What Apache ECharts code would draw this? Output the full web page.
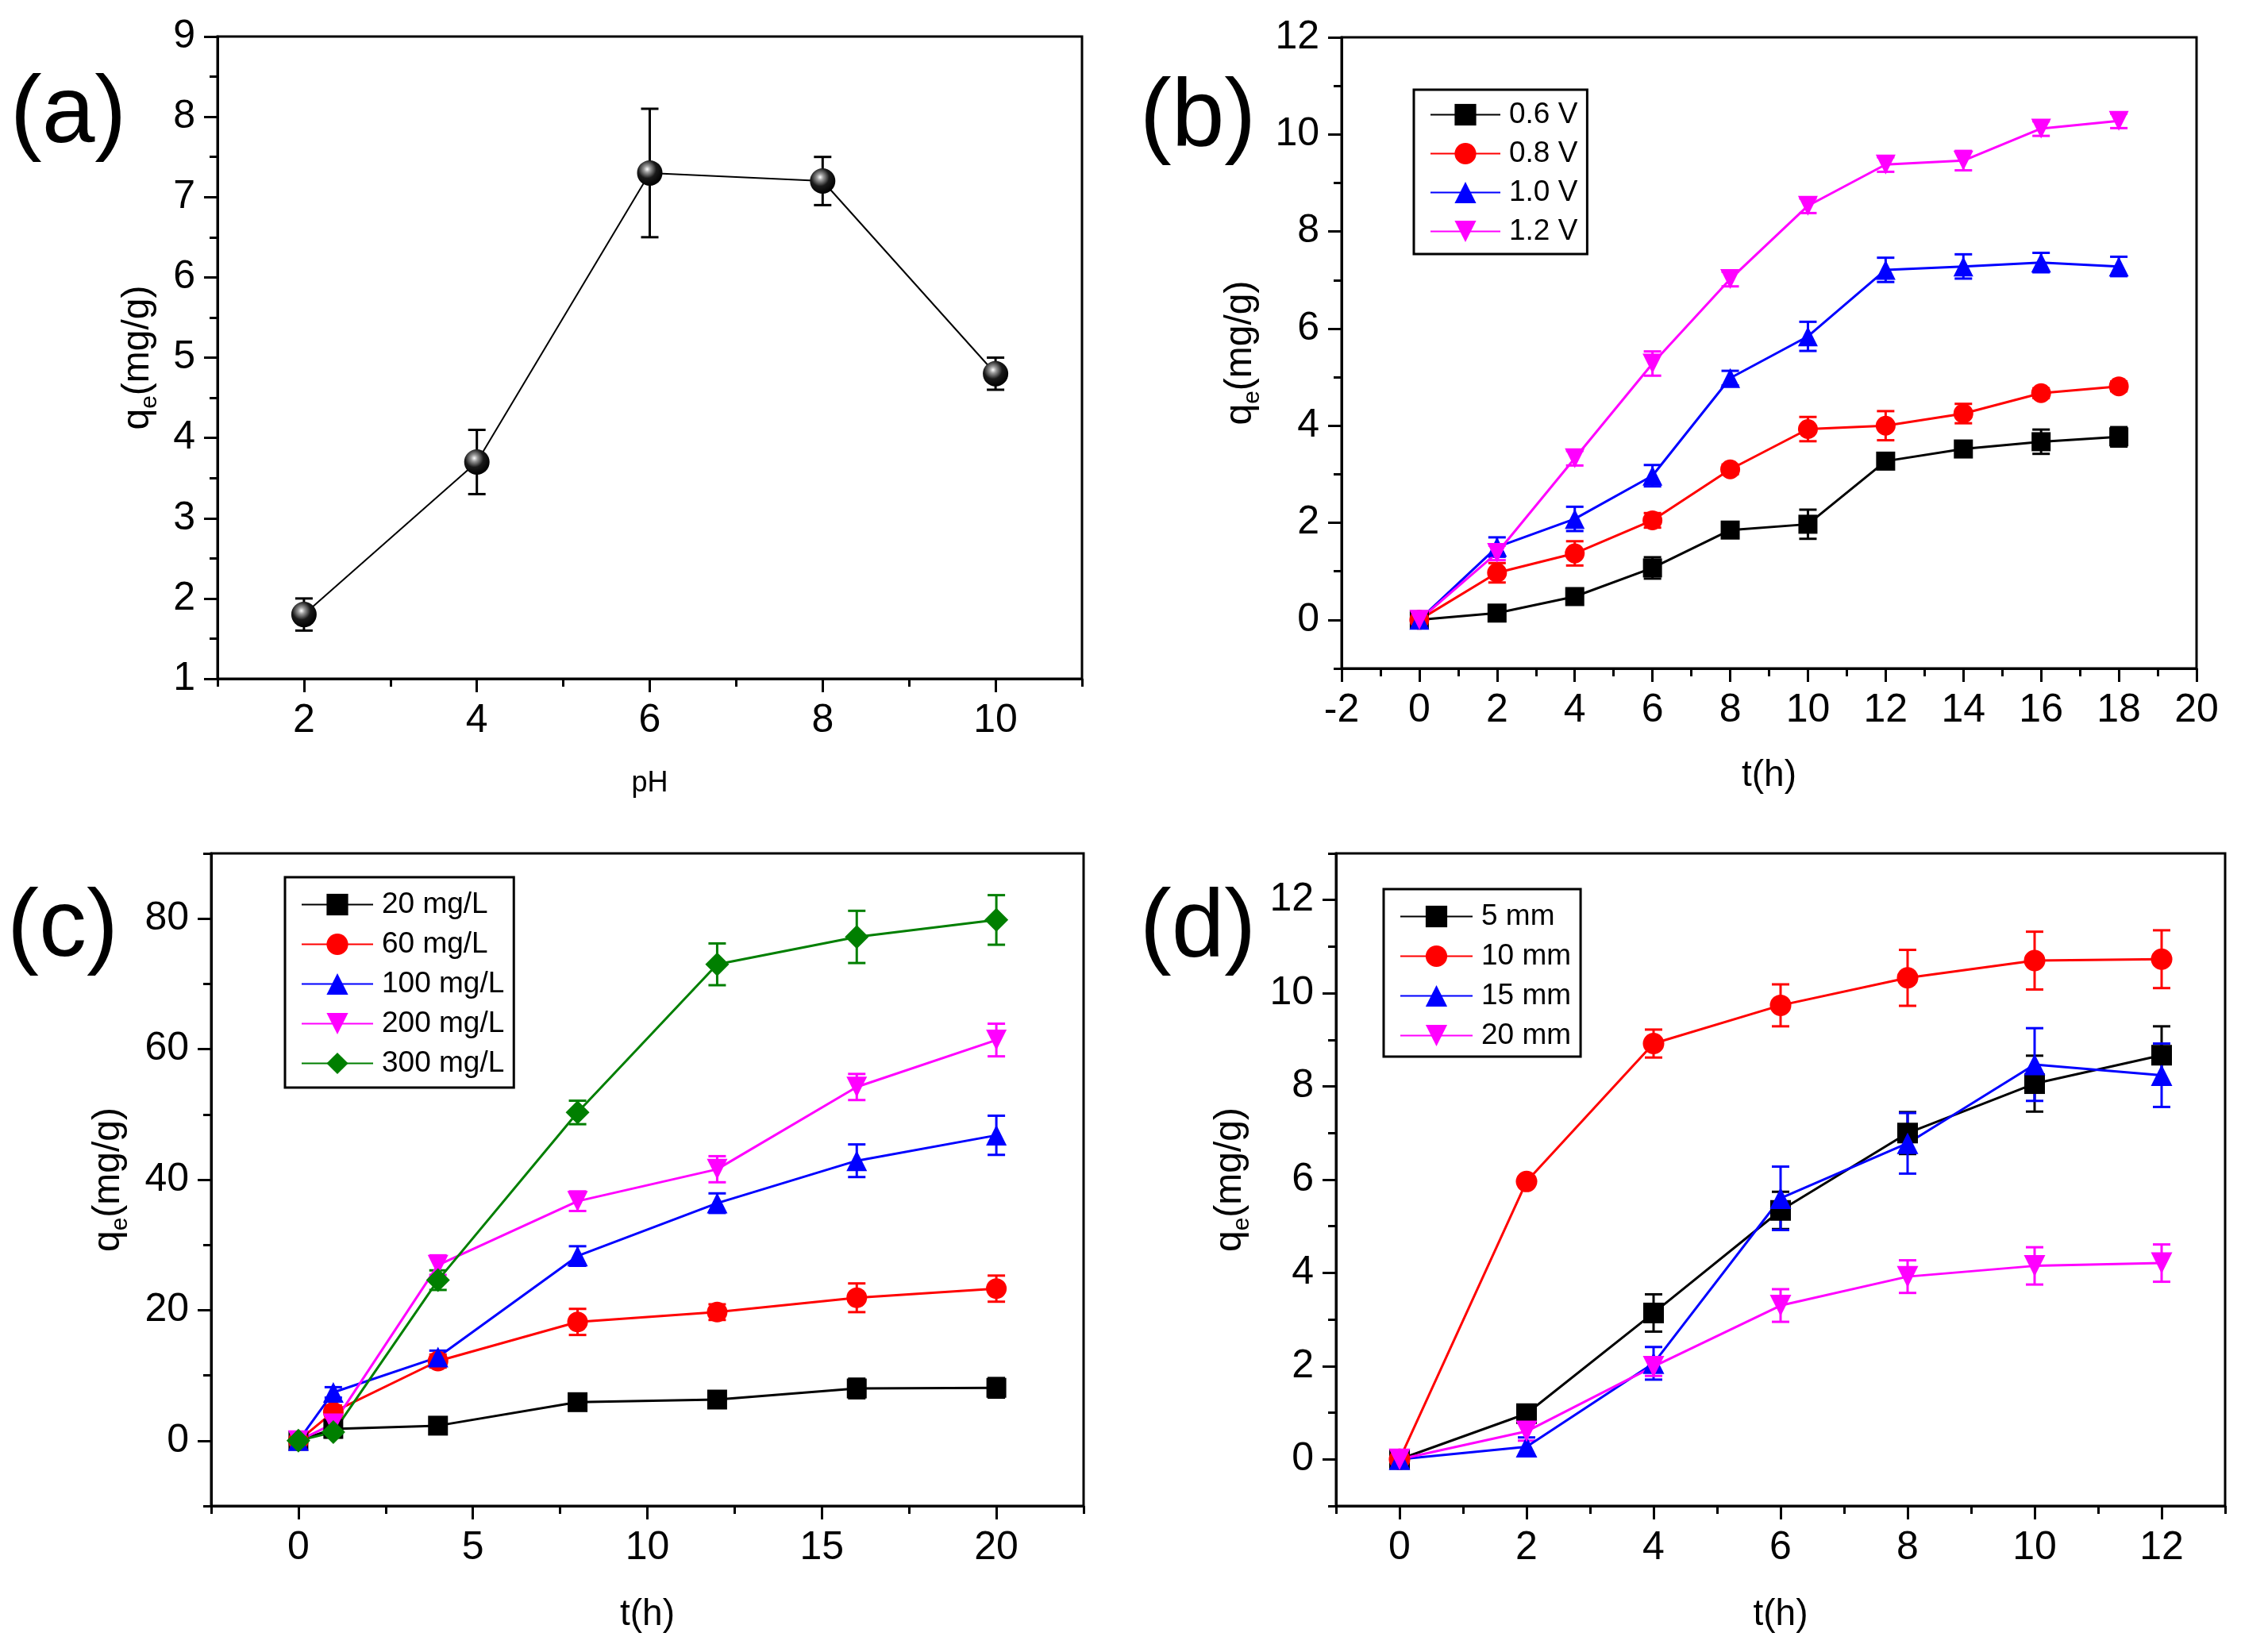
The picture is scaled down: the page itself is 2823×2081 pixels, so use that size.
<!DOCTYPE html>
<html>
<head>
<meta charset="utf-8">
<script src="https://cdn.jsdelivr.net/npm/echarts@6/dist/echarts.min.js"></script>
<style>html,body{margin:0;background:#fff}#chart{width:2823px;height:2081px}</style>
</head>
<body>
<div id="chart"></div>
<script>
'use strict';

// (a) effect of pH
var phX = [2, 4, 6, 8, 10];
var phQ = [1.8, 3.7, 7.3, 7.2, 4.8];
var phErr = [0.2, 0.4, 0.8, 0.3, 0.2];

// (b) effect of voltage
var tV = [0, 2, 4, 6, 8, 10, 12, 14, 16, 18];
var q06 = [0, 0.14, 0.48, 1.07, 1.85, 1.97, 3.27, 3.52, 3.67, 3.77];
var e06 = [0.05, 0.08, 0.12, 0.22, 0.15, 0.3, 0.1, 0.1, 0.25, 0.2];
var q08 = [0, 0.97, 1.37, 2.05, 3.1, 3.93, 4.0, 4.25, 4.67, 4.81];
var e08 = [0.05, 0.2, 0.25, 0.15, 0.1, 0.25, 0.3, 0.2, 0.1, 0.1];
var q10 = [0, 1.5, 2.08, 2.97, 4.98, 5.84, 7.21, 7.28, 7.36, 7.28];
var e10 = [0.1, 0.2, 0.25, 0.22, 0.15, 0.3, 0.25, 0.25, 0.2, 0.2];
var q12 = [0, 1.38, 3.33, 5.28, 7.02, 8.53, 9.38, 9.46, 10.12, 10.28];
var e12 = [0.05, 0.15, 0.15, 0.25, 0.15, 0.15, 0.15, 0.2, 0.15, 0.15];

// (c) effect of initial concentration
var tC = [0, 1, 4, 8, 12, 16, 20];
var c20 = [0, 1.8, 2.3, 5.9, 6.3, 8.0, 8.1];
var ec20 = [0.5, 0.5, 0.6, 0.8, 1.0, 1.5, 1.5];
var c60 = [0, 4.4, 12.2, 18.2, 19.7, 21.9, 23.3];
var ec60 = [0.5, 1, 1, 2, 1.2, 2.2, 2];
var c100 = [0, 7.4, 12.8, 28.3, 36.4, 42.9, 46.8];
var ec100 = [0.5, 0.8, 1, 1.5, 1.5, 2.5, 3];
var c200 = [0, 2.6, 26.9, 36.7, 41.6, 54.2, 61.4];
var ec200 = [0.5, 1, 1.5, 1.5, 2, 2, 2.5];
var c300 = [0, 1.3, 24.6, 50.3, 73.0, 77.2, 79.8];
var ec300 = [0.5, 0.8, 1.5, 1.8, 3.2, 4, 3.8];

// (d) effect of electrode distance
var tD = [0, 2, 4, 6, 8, 10, 12];
var d5 = [0, 0.98, 3.14, 5.34, 7.0, 8.06, 8.67];
var ed5 = [0.05, 0.15, 0.4, 0.4, 0.45, 0.6, 0.62];
var d10 = [0, 5.96, 8.92, 9.74, 10.33, 10.7, 10.73];
var ed10 = [0.05, 0.1, 0.3, 0.45, 0.6, 0.62, 0.62];
var d15 = [0, 0.27, 2.06, 5.6, 6.78, 8.47, 8.24];
var ed15 = [0.1, 0.2, 0.35, 0.68, 0.65, 0.78, 0.68];
var d20 = [0, 0.6, 1.99, 3.3, 3.92, 4.15, 4.21];
var ed20 = [0.05, 0.2, 0.2, 0.35, 0.35, 0.4, 0.4];

// tick labels
var aXTicks = [2, 4, 6, 8, 10];
var aYTicks = [1, 2, 3, 4, 5, 6, 7, 8, 9];
var bXTicks = [-2, 0, 2, 4, 6, 8, 10, 12, 14, 16, 18, 20];
var bYTicks = [0, 2, 4, 6, 8, 10, 12];
var cXTicks = [0, 5, 10, 15, 20];
var cYTicks = [0, 20, 40, 60, 80];
var dXTicks = [0, 2, 4, 6, 8, 10, 12];
var dYTicks = [0, 2, 4, 6, 8, 10, 12];

var FONT = '"Liberation Sans", Arial, sans-serif';

function seq(a, b, d) {
  var out = [];
  for (var v = a; v <= b + 1e-9; v += d) out.push(+v.toFixed(3));
  return out;
}
function pairs(xs, ys) {
  return xs.map(function (x, i) { return [x, ys[i]]; });
}
function errData(xs, ys, es) {
  return xs.map(function (x, i) { return [x, ys[i] - es[i], ys[i] + es[i]]; });
}

var xAxes = [], yAxes = [];
function addAxes(list, gi, pos, min, max, major, minor, name, gap, nameStyle) {
  list.push({
    type: 'value', gridIndex: gi, position: pos, min: min, max: max,
    name: name, nameLocation: 'middle', nameGap: gap, nameTextStyle: nameStyle,
    axisLine: { show: true, onZero: false, lineStyle: { color: '#000', width: 3 } },
    axisTick: { show: true, customValues: major, length: 17, lineStyle: { color: '#000', width: 3 } },
    axisLabel: { customValues: major, fontSize: 50, color: '#000', fontFamily: FONT, margin: 28 },
    splitLine: { show: false }
  });
  // minor ticks sit on a second axis at the same place
  list.push({
    type: 'value', gridIndex: gi, position: pos, min: min, max: max,
    axisLine: { show: false, onZero: false },
    axisTick: { show: true, customValues: minor, length: 10, lineStyle: { color: '#000', width: 3 } },
    axisLabel: { show: false },
    splitLine: { show: false }
  });
}

var qName = '{q|q}{s|e}{q|(mg/g)}';
var qStyle = {
  color: '#000', fontFamily: FONT,
  rich: {
    q: { fontSize: 48, lineHeight: 60, color: '#000', fontFamily: FONT },
    s: { fontSize: 30, lineHeight: 30, verticalAlign: 'bottom', color: '#000', fontFamily: FONT }
  }
};
var tStyle = { fontSize: 46, color: '#000', fontFamily: FONT };

addAxes(xAxes, 0, 'bottom', 1, 11, aXTicks, seq(1, 11, 2), 'pH', 114, { fontSize: 36, color: '#000', fontFamily: FONT });
addAxes(yAxes, 0, 'left', 1, 9, aYTicks, seq(1.5, 8.5, 1), qName, 70, qStyle);
addAxes(xAxes, 1, 'bottom', -2, 20, bXTicks, seq(-1, 19, 2), 't(h)', 112, tStyle);
addAxes(yAxes, 1, 'left', -1, 12, bYTicks, seq(-1, 11, 2), qName, 97, qStyle);
addAxes(xAxes, 2, 'bottom', -2.5, 22.5, cXTicks, seq(-2.5, 22.5, 5), 't(h)', 114, tStyle);
addAxes(yAxes, 2, 'left', -10, 90, cYTicks, seq(-10, 90, 20), qName, 99, qStyle);
addAxes(xAxes, 3, 'bottom', -1, 13, dXTicks, seq(-1, 13, 2), 't(h)', 114, tStyle);
addAxes(yAxes, 3, 'left', -1, 13, dYTicks, seq(-1, 13, 2), qName, 103, qStyle);

function errRender(color, cap) {
  return function (params, api) {
    var top = api.coord([api.value(0), api.value(2)]);
    var bot = api.coord([api.value(0), api.value(1)]);
    var st = { stroke: color, lineWidth: 3 };
    return {
      type: 'group',
      children: [
        { type: 'line', shape: { x1: top[0], y1: top[1], x2: bot[0], y2: bot[1] }, style: st },
        { type: 'line', shape: { x1: top[0] - cap, y1: top[1], x2: top[0] + cap, y2: top[1] }, style: st },
        { type: 'line', shape: { x1: bot[0] - cap, y1: bot[1], x2: bot[0] + cap, y2: bot[1] }, style: st }
      ]
    };
  };
}

var series = [];
function addCurve(gi, name, xs, ys, es, color, symbol, size, rotate, width) {
  series.push({
    type: 'custom', name: name + ' err', xAxisIndex: gi * 2, yAxisIndex: gi * 2,
    data: errData(xs, ys, es), renderItem: errRender(color, 11), z: 2, silent: true
  });
  series.push({
    type: 'line', name: name, xAxisIndex: gi * 2, yAxisIndex: gi * 2,
    data: pairs(xs, ys), symbol: symbol, symbolSize: size, symbolRotate: rotate || 0,
    itemStyle: { color: color }, lineStyle: { color: color, width: width }, z: 3
  });
}

var sphere = {
  type: 'radial', x: 0.4, y: 0.35, r: 0.65,
  colorStops: [
    { offset: 0, color: '#ffffff' },
    { offset: 0.2, color: '#9a9a9a' },
    { offset: 0.55, color: '#1a1a1a' },
    { offset: 1, color: '#000000' }
  ]
};
addCurve(0, 'pH', phX, phQ, phErr, '#000', 'circle', 32, 0, 2);
series[series.length - 1].itemStyle = { color: sphere };
series[series.length - 1].lineStyle = { color: '#000', width: 2 };

addCurve(1, '0.6 V', tV, q06, e06, '#000000', 'rect', 24, 0, 3);
addCurve(1, '0.8 V', tV, q08, e08, '#ff0000', 'circle', 25, 0, 3);
addCurve(1, '1.0 V', tV, q10, e10, '#0000ff', 'triangle', 25, 0, 3);
addCurve(1, '1.2 V', tV, q12, e12, '#ff00ff', 'triangle', 25, 180, 3);

addCurve(2, '20 mg/L', tC, c20, ec20, '#000000', 'rect', 25, 0, 3);
addCurve(2, '60 mg/L', tC, c60, ec60, '#ff0000', 'circle', 26, 0, 3);
addCurve(2, '100 mg/L', tC, c100, ec100, '#0000ff', 'triangle', 26, 0, 3);
addCurve(2, '200 mg/L', tC, c200, ec200, '#ff00ff', 'triangle', 26, 180, 3);
addCurve(2, '300 mg/L', tC, c300, ec300, '#007f00', 'diamond', 30, 0, 3);

addCurve(3, '5 mm', tD, d5, ed5, '#000000', 'rect', 26, 0, 3);
addCurve(3, '10 mm', tD, d10, ed10, '#ff0000', 'circle', 27, 0, 3);
addCurve(3, '15 mm', tD, d15, ed15, '#0000ff', 'triangle', 27, 0, 3);
addCurve(3, '20 mm', tD, d20, ed20, '#ff00ff', 'triangle', 27, 180, 3);

function legendAt(names, left, top, iw, gap, pad) {
  return {
    data: names, orient: 'vertical', left: left, top: top,
    itemWidth: iw, itemHeight: 34, itemGap: gap,
    padding: pad, borderColor: '#000', borderWidth: 3,
    selectedMode: false,
    textStyle: { fontSize: 37, color: '#000', fontFamily: FONT, padding: [0, 0, 0, 6] }
  };
}

function panelLabel(txt, x, y) {
  return {
    type: 'text', x: x, y: y,
    style: { text: txt, font: '120px ' + FONT, fill: '#000', align: 'center', verticalAlign: 'middle' }
  };
}

var chart = echarts.init(document.getElementById('chart'));
chart.setOption({
  backgroundColor: '#fff',
  animation: false,
  grid: [
    { left: 274, top: 46, width: 1089, height: 809 },
    { left: 1690, top: 47, width: 1077, height: 795 },
    { left: 266, top: 1075, width: 1099, height: 822 },
    { left: 1683, top: 1075, width: 1120, height: 822 }
  ].map(function (g) {
    g.show = true; g.borderColor = '#000'; g.borderWidth = 3; g.backgroundColor = 'transparent';
    return g;
  }),
  xAxis: xAxes,
  yAxis: yAxes,
  legend: [
    legendAt(['0.6 V', '0.8 V', '1.0 V', '1.2 V'], 1781, 113, 88, 12, [13, 12, 10, 20]),
    legendAt(['20 mg/L', '60 mg/L', '100 mg/L', '200 mg/L', '300 mg/L'], 359, 1105, 90, 13, [16, 12, 12, 20]),
    legendAt(['5 mm', '10 mm', '15 mm', '20 mm'], 1743, 1120, 91, 13, [16, 12, 8, 20])
  ],
  graphic: [
    panelLabel('(a)', 86, 146),
    panelLabel('(b)', 1509, 150),
    panelLabel('(c)', 79, 1171),
    panelLabel('(d)', 1509, 1171)
  ],
  series: series
});
</script>
</body>
</html>
